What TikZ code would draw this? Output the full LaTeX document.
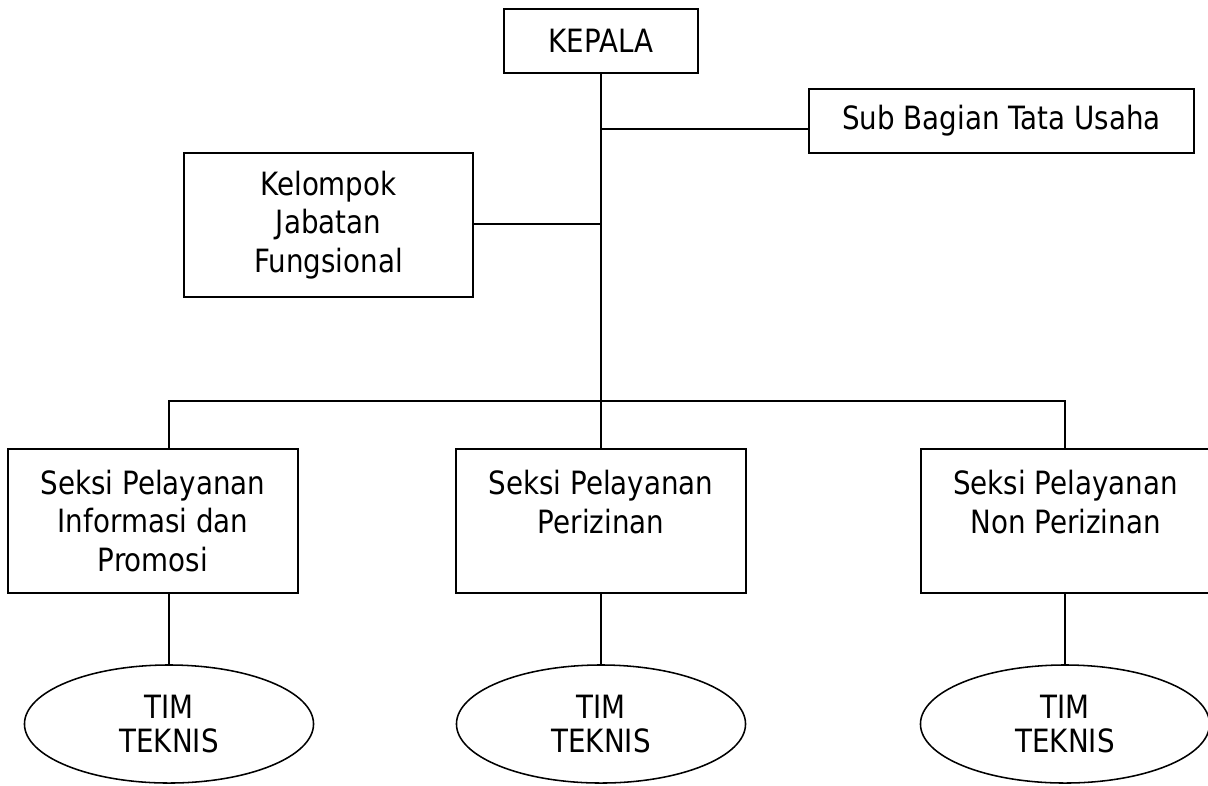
\documentclass[tikz,border=0pt]{standalone}
\usepackage{fontspec}
\setmainfont{DejaVu Sans}[FakeStretch=0.865]
\usepackage{tikz}
\usetikzlibrary{positioning, shapes.geometric}

\tikzset{
  unit/.style={draw, line width=1.4pt, inner sep=0pt, align=center,
    font=\fontsize{22.8}{27.2}\selectfont},
  seksi/.style={unit, minimum width=7.225cm, minimum height=3.6cm},
  tim/.style={ellipse, draw, line width=1.1pt, inner sep=0pt, align=center,
    minimum width=7.225cm, minimum height=2.95cm,
    font=\fontsize{22.8}{24.8}\selectfont},
  link/.style={line width=1.4pt}
}

\begin{document}
\begin{tikzpicture}[x=0.025cm, y=-0.025cm]
  \useasboundingbox (0,0) rectangle (1208,785);

  % Top level
  \node[unit, minimum width=4.825cm, minimum height=1.6cm] (kepala) at (601,41) {KEPALA};
  \node[unit, minimum width=9.625cm, minimum height=1.6cm] (tu) at (1001.5,121) {Sub Bagian Tata Usaha};
  \node[unit, minimum width=7.225cm, minimum height=3.6cm] (kjf) at (328.5,225)
    {Kelompok\\Jabatan\\Fungsional};

  % Seksi boxes
  \node[seksi] (info) at (153,521) {Seksi Pelayanan\\Informasi dan\\Promosi};
  \node[seksi] (izin) at (601,521) {Seksi Pelayanan\\Perizinan\\~};
  \node[seksi] (nonizin) at (1065.5,521) {Seksi Pelayanan\\Non Perizinan\\~};

  % Tim teknis
  \node[tim] (tim1) at (169,724) {TIM\\TEKNIS};
  \node[tim] (tim2) at (601,724) {TIM\\TEKNIS};
  \node[tim] (tim3) at (1065,724) {TIM\\TEKNIS};

  % Junctions on the main line
  \coordinate (jtu) at (601,129);
  \coordinate (jkjf) at (601,224);
  \coordinate (bus) at (601,401);

  % Connectors
  \draw[link] (kepala) -- (izin);
  \draw[link] (jtu) -- (jtu -| tu.west);
  \draw[link] (jkjf) -- (jkjf -| kjf.east);
  \draw[link] (tim1 |- info.north) |- (bus) -| (tim3 |- nonizin.north);
  \foreach \s/\t in {info/tim1, izin/tim2, nonizin/tim3} {
    \draw[link] (\t) -- (\t |- \s.south);
  }
\end{tikzpicture}
\end{document}
